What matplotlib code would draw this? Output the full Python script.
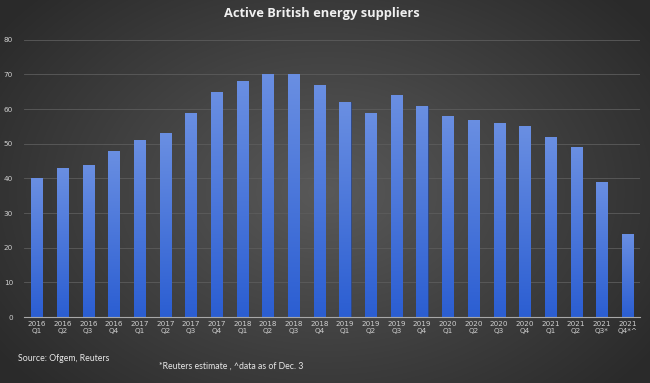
import numpy as np
import matplotlib
matplotlib.use("Agg")
import matplotlib.pyplot as plt
from matplotlib.colors import LinearSegmentedColormap

years = ["2016"] * 4 + ["2017"] * 4 + ["2018"] * 4 + ["2019"] * 4 + ["2020"] * 4 + ["2021"] * 4
quarters = ["Q1", "Q2", "Q3", "Q4"] * 5 + ["Q1", "Q2", "Q3*", "Q4*^"]
suppliers = [40, 43, 44, 48, 51, 53, 59, 65, 68, 70, 70, 67,
             62, 59, 64, 61, 58, 57, 56, 55, 52, 49, 39, 24]
yticks = [0, 10, 20, 30, 40, 50, 60, 70, 80]

W, H = 650, 383
fig = plt.figure(figsize=(W / 100, H / 100), dpi=100)

# radial background gradient
bg = fig.add_axes([0, 0, 1, 1], zorder=-10)
yy, xx = np.mgrid[0:H, 0:W]
d = np.sqrt(((xx - W * 0.5) / (W * 0.62)) ** 2 + ((yy - H * 0.5) / (H * 0.75)) ** 2)
d = np.clip(d, 0, 1)
bg_cmap = LinearSegmentedColormap.from_list("bg", ["#595959", "#2a2a2a"])
bg.imshow(d, cmap=bg_cmap, aspect="auto", extent=[0, 1, 0, 1], vmin=0, vmax=1)
bg.set_axis_off()

ax = fig.add_axes([0.037, 0.172, 0.948, 0.724])
ax.patch.set_alpha(0)
x = np.arange(len(suppliers))
bars = ax.bar(x, suppliers, width=0.43, color="#4a74d8", edgecolor="#1f3a7a",
              linewidth=0.4, zorder=3)

grad = np.linspace(0, 1, 256).reshape(-1, 1)
bar_cmap = LinearSegmentedColormap.from_list("bar", ["#2b5ed2", "#6a8fe2"])
for b in bars:
    bx, bw, bh = b.get_x(), b.get_width(), b.get_height()
    im = ax.imshow(grad, cmap=bar_cmap, aspect="auto", origin="lower",
                   extent=[bx, bx + bw, 0, bh], zorder=3.5)
    im.set_clip_path(b)

ax.set_xlim(-0.5, len(suppliers) - 0.5)
ax.set_ylim(0, 80)
ax.set_yticks(yticks)
ax.set_yticklabels([str(t) for t in yticks])
ax.set_xticks(x)
ax.set_xticklabels([f"{y}\n{q}" for y, q in zip(years, quarters)])
ax.tick_params(axis="both", length=0, colors="#cfcfcf", labelsize=5.2)
ax.tick_params(axis="x", pad=3)
ax.tick_params(axis="y", pad=8)
ax.grid(axis="y", color="#5c5c5c", linewidth=0.6, zorder=0)
for s in ["top", "right", "left"]:
    ax.spines[s].set_visible(False)
ax.spines["bottom"].set_color("#a8a8a8")
ax.spines["bottom"].set_linewidth(0.8)
ax.spines["bottom"].set_zorder(4)

fig.text(0.495, 0.965, "Active British energy suppliers", ha="center", va="center",
         color="#f0f0f0", fontsize=9.3, fontweight="bold", family="Open Sans")
fig.text(0.028, 0.065, "Source: Ofgem, Reuters", ha="left", va="center",
         color="#e8e8e8", fontsize=6.3, family="Lato")
fig.text(0.245, 0.045, "*Reuters estimate , ^data as of Dec. 3", ha="left", va="center",
         color="#e8e8e8", fontsize=6.3, family="Lato")

fig.savefig("out.png", dpi=100)
